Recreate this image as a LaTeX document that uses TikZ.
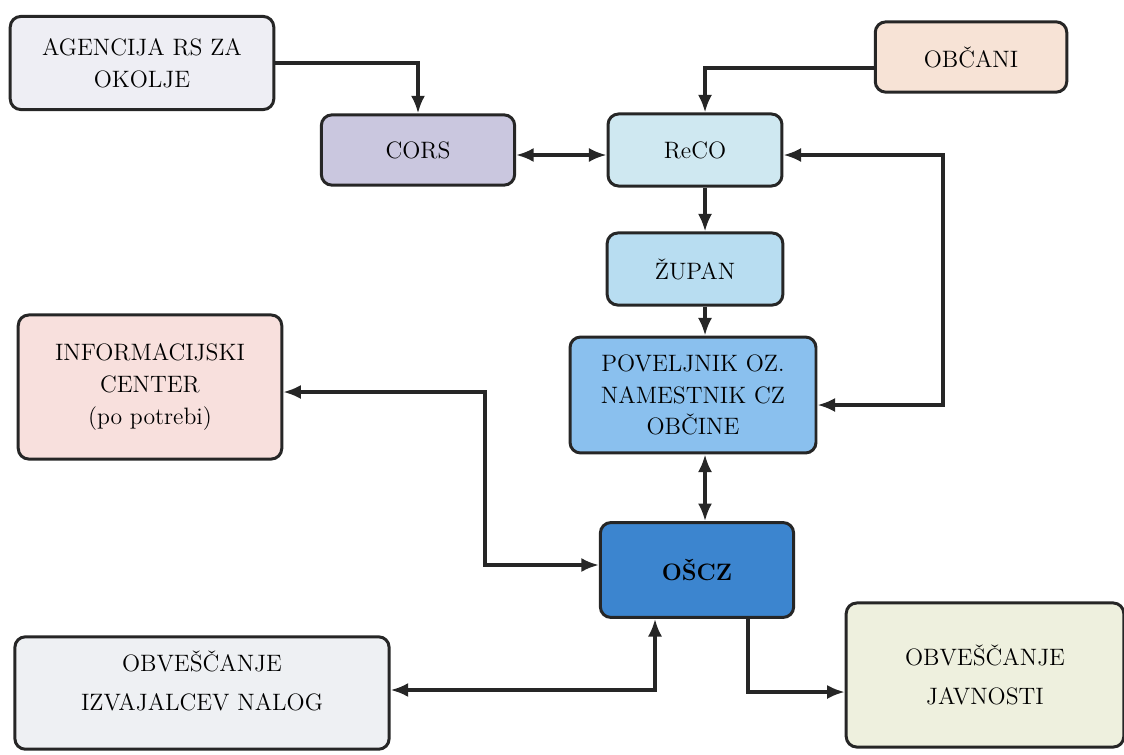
\documentclass[tikz,border=0pt]{standalone}
\usepackage{fontspec}
\usetikzlibrary{arrows.meta}

\definecolor{agencol}{HTML}{EEEEF4}
\definecolor{corscol}{HTML}{CAC7DF}
\definecolor{obccol}{HTML}{F7E3D6}
\definecolor{recocol}{HTML}{CFE8F1}
\definecolor{zupcol}{HTML}{B8DDF1}
\definecolor{povcol}{HTML}{8AC0EE}
\definecolor{infocol}{HTML}{F8E0DD}
\definecolor{oszcol}{HTML}{3C85CF}
\definecolor{izvcol}{HTML}{EEF0F3}
\definecolor{javcol}{HTML}{EEF0DE}

\tikzset{
  box/.style={draw=black!85,line width=1.7pt,rounded corners=6pt,align=center,
    font=\fontsize{13.5}{18}\selectfont,inner sep=2pt},
  widebox/.style={box,font=\fontsize{13.5}{22}\selectfont},
  link/.style={line width=1.8pt,draw=black!85}
}

\begin{document}
\begin{tikzpicture}[>={Latex[length=10pt,width=8pt]},x=0.02cm,y=-0.02cm]

                \useasboundingbox (0,0) rectangle (1124,754);

                % upper row
                \node[box,fill=agencol,minimum width=150pt,minimum height=53pt] (agen) at (142,63) {AGENCIJA RS ZA\\OKOLJE};
                \node[box,fill=obccol,minimum width=109pt,minimum height=40pt] (obc) at (971,57) {OBČANI};
                \node[box,fill=corscol,minimum width=110pt,minimum height=40pt] (cors) at (418,150) {CORS};
                \node[box,fill=recocol,minimum width=99pt,minimum height=41pt] (reco) at (695,150) {ReCO};

                % middle column
                \node[box,fill=zupcol,minimum width=100pt,minimum height=41pt] (zup) at (695,269) {ŽUPAN};
                \node[box,fill=povcol,minimum width=140pt,minimum height=66pt] (pov) at (693,395) {POVELJNIK OZ.\\NAMESTNIK CZ\\OBČINE};
                \node[box,fill=infocol,minimum width=150pt,minimum height=82pt] (info) at (150,387) {INFORMACIJSKI\\CENTER\\(po potrebi)};
                \node[box,fill=oszcol,minimum width=110pt,minimum height=54pt,font=\fontsize{13.5}{18}\selectfont\bfseries] (osz) at (697,570) {OŠCZ};

                % lower row
                \node[widebox,fill=izvcol,minimum width=213pt,minimum height=64pt,text depth=14pt] (izv) at (202,693) {OBVEŠČANJE\\IZVAJALCEV NALOG};
                \node[widebox,fill=javcol,minimum width=158pt,minimum height=82pt] (jav) at (985,675) {OBVEŠČANJE\\JAVNOSTI};

                \coordinate (rbus) at (943,0);
                \coordinate (ibus) at (485,0);
                \coordinate (jbus) at (655,0);
                \coordinate (kbus) at (748,0);
                \coordinate (obus) at (705,0);

                \draw[link,->] (agen) -| (cors);
                \draw[link,->] (obc.west |- 0,68) -| (obus |- reco.north);
                \draw[link,<->] (cors.east |- 0,155) -- (reco.west |- 0,155);
                \draw[link,<->] (reco.east |- 0,155) -| (rbus |- 0,405) -- (pov.east |- 0,405);
                \draw[link,->] (obus |- reco.south) -- (obus |- zup.north);
                \draw[link,->] (obus |- zup.south) -- (obus |- pov.north);
                \draw[link,<->] (obus |- pov.south) -- (obus |- osz.north);
                \draw[link,<->] (info.east |- 0,392) -| (ibus |- 0,565) -- (osz.west |- 0,565);
                \draw[link,<->] (izv.east |- 0,690) -| (jbus |- osz.south);
                \draw[link,->] (kbus |- osz.south) |- (jav.west |- 0,692);

            \end{tikzpicture}
\end{document}
